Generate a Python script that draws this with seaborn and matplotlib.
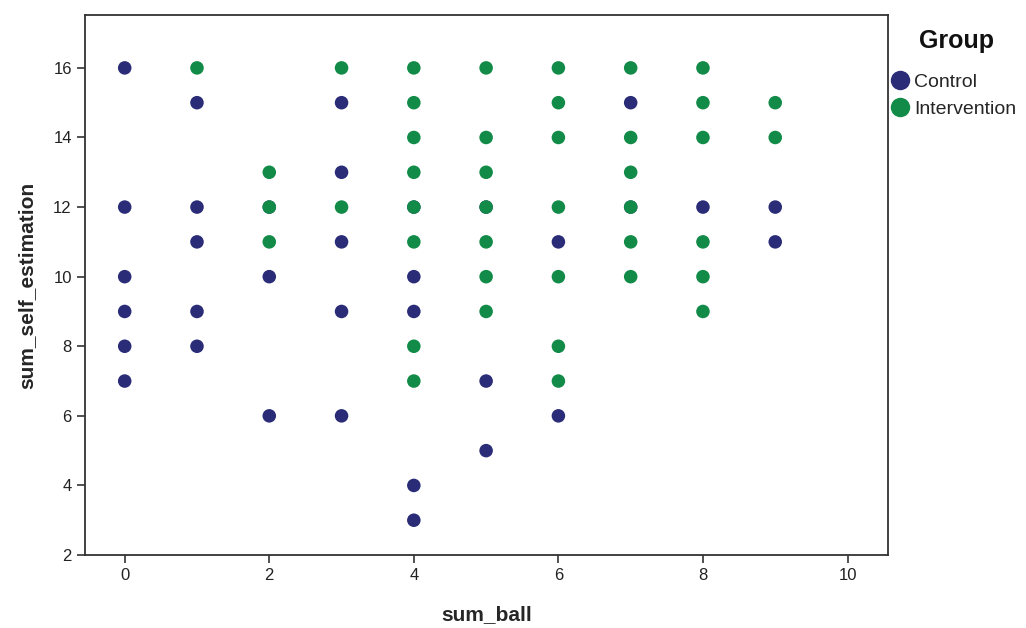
import matplotlib.pyplot as plt
import seaborn as sns
import pandas as pd
from matplotlib.lines import Line2D

# Data
control_x = [0, 0, 0, 0, 0, 0, 1, 1, 1, 1, 1, 2, 2, 2, 3, 3, 3, 3, 3,
             4, 4, 4, 4, 4, 5, 5, 5, 6, 6, 7, 7, 8, 9, 9]
control_y = [16, 12, 10, 9, 8, 7, 15, 12, 11, 9, 8, 12, 10, 6, 15, 13, 11, 9, 6,
             12, 10, 9, 4, 3, 12, 7, 5, 11, 6, 15, 12, 12, 12, 11]

interv_x = [1, 2, 2, 2, 3, 3,
            4, 4, 4, 4, 4, 4, 4, 4,
            5, 5, 5, 5, 5, 5, 5,
            6, 6, 6, 6, 6, 6, 6,
            7, 7, 7, 7, 7, 7,
            8, 8, 8, 8, 8, 8,
            9, 9]
interv_y = [16, 13, 12, 11, 16, 12,
            16, 15, 14, 13, 12, 11, 8, 7,
            16, 14, 13, 12, 11, 10, 9,
            16, 15, 14, 12, 10, 8, 7,
            16, 14, 13, 12, 11, 10,
            16, 15, 14, 11, 10, 9,
            15, 14]

groups = ["Control", "Intervention"]
colors = {"Control": "#2a2c78", "Intervention": "#128b48"}

df = pd.DataFrame({
    "sum_ball": control_x + interv_x,
    "sum_self_estimation": control_y + interv_y,
    "Group": ["Control"] * len(control_x) + ["Intervention"] * len(interv_x),
})

sns.set_style("white")
plt.rcParams["font.family"] = ["Liberation Sans", "DejaVu Sans"]

fig = plt.figure(figsize=(10.26, 6.28), dpi=100)
ax = fig.add_axes([0.0828, 0.1162, 0.7827, 0.8599])

sns.scatterplot(data=df, x="sum_ball", y="sum_self_estimation", hue="Group",
                hue_order=groups, palette=colors, s=95, linewidth=0,
                alpha=1, legend=False, ax=ax)

ax.set_xlim(-0.55, 10.56)
ax.set_ylim(2, 17.52)
ax.set_xticks(range(0, 11, 2))
ax.set_yticks(range(2, 17, 2))
ax.tick_params(axis="both", direction="out", length=6, width=1.2,
               labelsize=12, color="#333333", labelcolor="#222222",
               bottom=True, left=True)
for sp in ax.spines.values():
    sp.set_color("#333333")
    sp.set_linewidth(1.3)

ax.set_xlabel("sum_ball", fontsize=15, fontweight="bold", labelpad=16)
ax.set_ylabel("sum_self_estimation", fontsize=15, fontweight="bold", labelpad=12)

# legend: title as separate text, entries below
fig.text(956 / 1026, 1 - 41 / 628, "Group", fontsize=18, fontweight="bold",
         ha="center", va="center", color="#111111")
handles = [Line2D([0], [0], marker="o", linestyle="", markersize=14,
                  markerfacecolor=colors[g], markeredgewidth=0) for g in groups]
fig.legend(handles, groups, loc="upper left", bbox_to_anchor=(890 / 1026, 1 - 73 / 628),
           frameon=False, fontsize=14, handletextpad=0.25, labelspacing=0.5,
           handlelength=1.0, borderpad=0, borderaxespad=0)

fig.savefig("out.png", dpi=100)
plt.close(fig)
